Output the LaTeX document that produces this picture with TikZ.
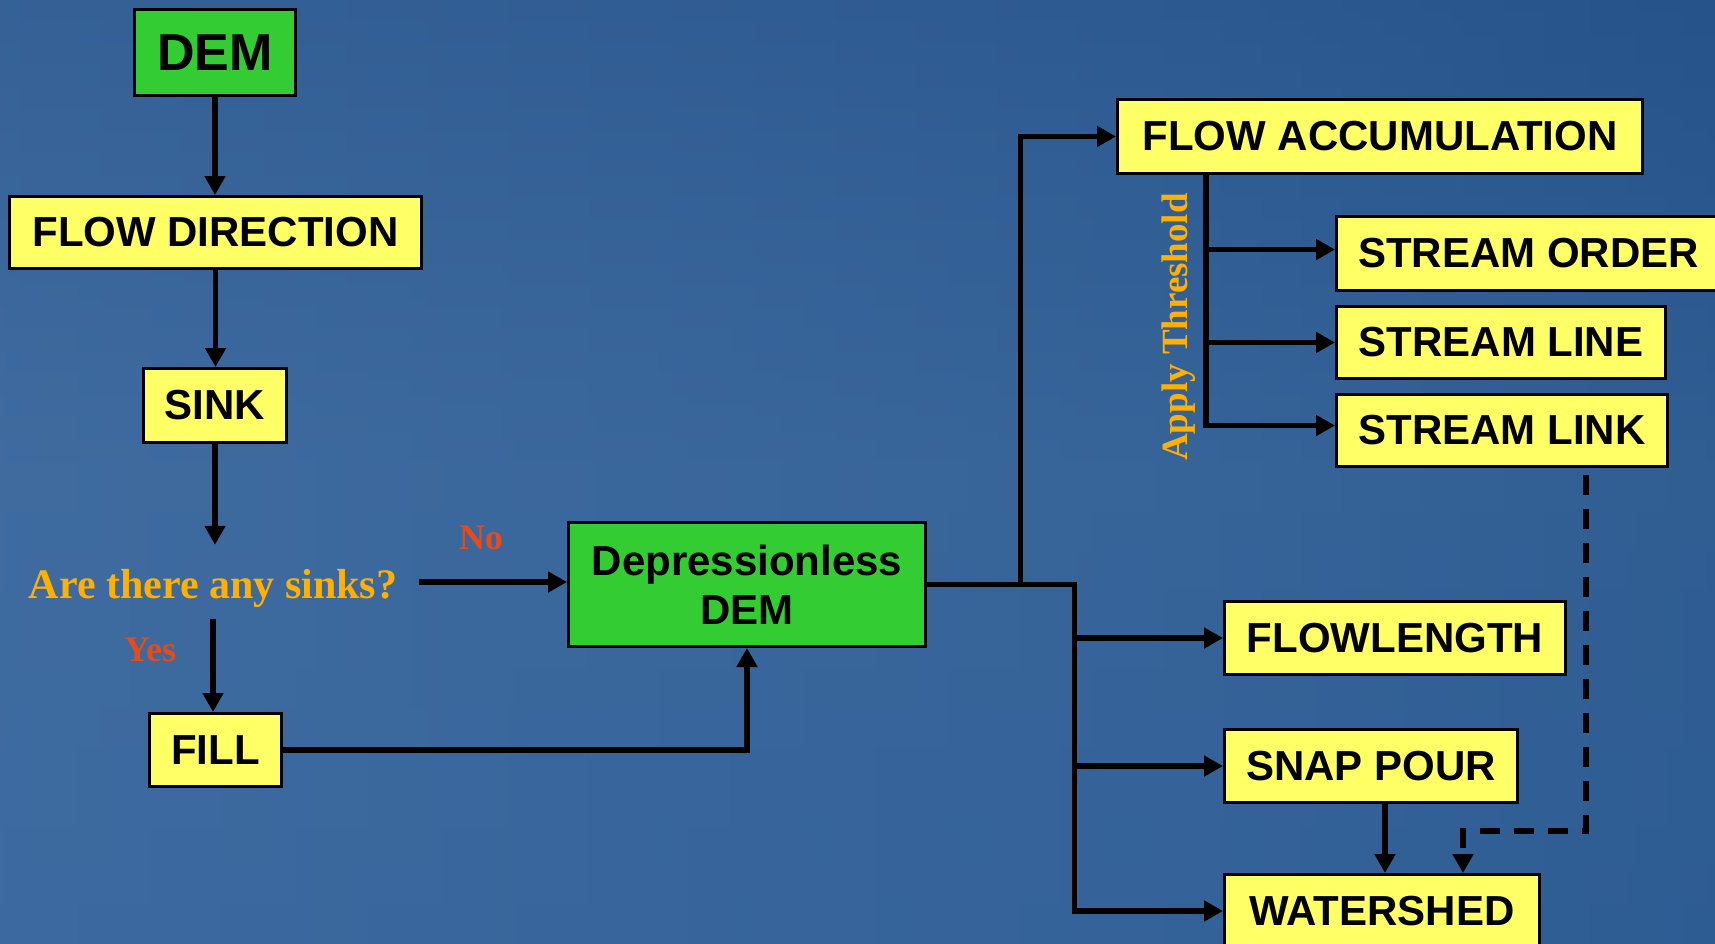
\documentclass[tikz,border=0pt]{standalone}
\usepackage{fontspec}
\setmainfont{Liberation Serif}
\setsansfont{Liberation Sans}
\usetikzlibrary{arrows.meta}
\definecolor{boxyellow}{HTML}{FFFF66}
\definecolor{boxgreen}{HTML}{33CC33}
\definecolor{qorange}{HTML}{FFB000}
\definecolor{lblred}{HTML}{E84A1A}
\definecolor{bgtop}{RGB}{16,60,116}
\definecolor{bgup}{RGB}{38,82,138}
\definecolor{bgmid}{RGB}{62,106,158}
\definecolor{bgbot}{RGB}{50,100,160}
\definecolor{bgleft}{RGB}{34,80,134}
\definecolor{bglight}{RGB}{66,110,162}
\definecolor{bgcen}{RGB}{48,94,148}
\definecolor{bgright}{RGB}{14,64,118}
\pgfdeclareverticalshading{bgv}{100bp}{color(0bp)=(bgbot); color(50bp)=(bgmid); color(78bp)=(bgup); color(100bp)=(bgtop)}
\pgfdeclarehorizontalshading{bgh}{100bp}{color(0bp)=(bgleft); color(22bp)=(bglight); color(60bp)=(bgcen); color(100bp)=(bgright)}
\begin{document}
\begin{tikzpicture}[x=1pt,y=-1pt,
  box/.style={draw=black, line width=3pt, fill=boxyellow, text=black,
    font=\sffamily\bfseries\fontsize{42}{49}\selectfont,
    inner sep=0pt, anchor=north west, align=center},
  gbox/.style={box, fill=boxgreen},
  conn/.style={draw=black, line width=5.5pt, -{Triangle[length=19pt,width=20pt]}},
  qtext/.style={text=qorange, font=\rmfamily\bfseries\fontsize{42}{49}\selectfont, inner xsep=22pt, minimum height=74pt, text height=32pt, text depth=0pt},
  lbl/.style={text=lblred, font=\rmfamily\bfseries\fontsize{36}{42}\selectfont, inner sep=0pt},
  thr/.style={text=qorange, font=\rmfamily\bfseries\fontsize{37}{42}\selectfont, inner sep=0pt, rotate=90}
]
\useasboundingbox (0,0) rectangle (1715,943);
\clip (0,0) rectangle (1715,943);
\shade[shading=bgv] (0,0) rectangle (1715,943);
\shade[shading=bgh, opacity=0.5] (0,0) rectangle (1715,943);

% nodes
\node[gbox, minimum width=161pt, minimum height=86pt, font=\sffamily\bfseries\fontsize{52}{60}\selectfont] (dem) at (133,8) {DEM};
\node[box, minimum width=412pt, minimum height=72pt] (fd) at (8,195) {FLOW DIRECTION};
\node[box, minimum width=143pt, minimum height=74pt] (sink) at (142,367) {SINK};
\node[qtext] (q) at (213,582) {Are there any sinks?};
\node[box, minimum width=132pt, minimum height=73pt] (fill) at (148,712) {FILL};
\node[gbox, minimum width=357pt, minimum height=124pt] (ddem) at (567,521) {Depressionless\\DEM};
\node[box, minimum width=525pt, minimum height=74pt] (fa) at (1116,98) {FLOW ACCUMULATION};
\node[box, minimum width=384pt, minimum height=74pt] (so) at (1335,215) {STREAM ORDER};
\node[box, minimum width=329pt, minimum height=72pt] (sl) at (1335,305) {STREAM LINE};
\node[box, minimum width=331pt, minimum height=72pt] (slk) at (1335,393) {STREAM LINK};
\node[box, minimum width=341pt, minimum height=73pt] (fl) at (1223,600) {FLOWLENGTH};
\node[box, minimum width=293pt, minimum height=73pt] (sp) at (1223,728) {SNAP POUR};
\node[box, minimum width=315pt, minimum height=73pt] (ws) at (1223,873) {WATERSHED};

\node[lbl] (yes) at (150,650) {Yes};
\node[lbl] (no) at (481,538) {No};
\node[thr] (thr) at (1179,327) {Apply Threshold};

% connectors
\draw[conn] (dem.south) -- (dem.south |- fd.north);
\draw[conn] (fd.south) -- (fd.south |- sink.north);
\draw[conn] (sink.south) -- (sink.south |- q.north);
\draw[conn] (q.south) -- (q.south |- fill.north);
\draw[conn] (q.east) -- (q.east -| ddem.west);
\draw[conn] (fill.east) -| (ddem.south);

\path (ddem.east) ++(93.5,0) coordinate (j1) ++(54,0) coordinate (j2);
\draw[conn] (ddem.east) -- (j2) |- (ws.west);
\draw[conn] (j1) |- (fa.west);
\draw[conn] (j2 |- fl.west) -- (fl.west);
\draw[conn] (j2 |- sp.west) -- (sp.west);

\coordinate (t) at ([xshift=90pt]fa.south west);
\coordinate (sow) at ([yshift=4pt]so.west);
\coordinate (slkw) at ([yshift=5pt]slk.west);
\draw[conn] (t) |- (slkw);
\draw[conn] (t |- sow) -- (sow);
\draw[conn] (t |- sl.west) -- (sl.west);

\draw[conn] ([xshift=14pt]sp.south) -- ([xshift=14pt]sp.south |- ws.north);

\coordinate (dk) at (1463,831);
\draw[conn, dash pattern=on 20pt off 14pt, dash phase=-7pt] ([xshift=84pt]slk.south) |- (dk) -- (dk |- ws.north);
\end{tikzpicture}
\end{document}
